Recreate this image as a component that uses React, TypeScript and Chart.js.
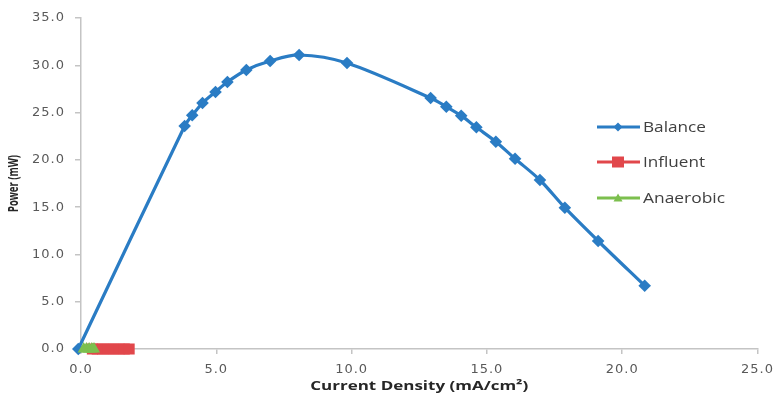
import { useEffect, useRef } from 'react';
import { Chart, registerables } from 'chart.js';

Chart.register(...registerables);

// Power curve measurements (current density in mA/cm², power in mW)
const balanceX = [-0.1, 3.83, 4.11, 4.49, 4.97, 5.41, 6.11, 6.99, 8.06, 9.83, 12.92, 13.5, 14.05, 14.61, 15.33, 16.04, 16.96, 17.88, 19.11, 20.83];
const balanceY = [0, 23.58, 24.71, 26.01, 27.18, 28.23, 29.5, 30.45, 31.09, 30.24, 26.54, 25.62, 24.67, 23.44, 21.92, 20.12, 17.87, 14.94, 11.42, 6.69];

const influentX = [0.42, 0.6, 0.8, 1.0, 1.2, 1.4, 1.6, 1.78];
const influentY = [0, 0, 0, 0, 0, 0, 0, 0];

const anaerobicX = [0.1, 0.2, 0.3, 0.4, 0.48];
const anaerobicY = [0, 0, 0, 0, 0];

const seriesNames = ['Balance', 'Influent', 'Anaerobic'];
const seriesColors = ['#2a7cc4', '#e1474b', '#7cbf4e'];

const xTicks = { min: 0, max: 25, step: 5 };
const yTicks = { min: 0, max: 35, step: 5 };

const xTitle = 'Current Density (mA/cm²)';
const yTitle = 'Power (mW)';

const zip = (xs: number[], ys: number[]) => xs.map((x, i) => ({ x, y: ys[i] }));

// Draw text scaled along its baseline so it spans the given width
function drawFitted(
  ctx: CanvasRenderingContext2D,
  text: string,
  x: number,
  y: number,
  width: number,
  align: 'left' | 'center',
) {
  (ctx as any).letterSpacing = '0px';
  const w = ctx.measureText(text).width;
  const k = width / w;
  ctx.save();
  ctx.translate(x, y);
  ctx.scale(k, 1);
  ctx.textAlign = align;
  ctx.fillText(text, 0, 0);
  ctx.restore();
}

const decorPlugin = {
  id: 'decor',
  beforeDraw(chart: any) {
    (chart.ctx as any).letterSpacing = '1px';
  },
  afterDraw(chart: any) {
    const ctx: CanvasRenderingContext2D = chart.ctx;
    const area = chart.chartArea;
    ctx.save();
    ctx.textBaseline = 'middle';

    // x axis title
    ctx.fillStyle = '#262626';
    ctx.font = 'bold 13px "Open Sans"';
    drawFitted(ctx, xTitle, (area.left + area.right) / 2, 386, 218, 'center');

    // y axis title, centred on the plot height
    ctx.save();
    ctx.translate(14, (area.top + area.bottom) / 2);
    ctx.rotate(-Math.PI / 2);
    ctx.font = 'bold 14px "Open Sans"';
    drawFitted(ctx, yTitle, 0, 0, 57, 'center');
    ctx.restore();

    // legend: line with marker, then name
    const rows = [127, 162, 198];
    const nameWidths = [63, 62, 82];
    ctx.font = '14px "Open Sans"';
    seriesNames.forEach((name, i) => {
      const y = rows[i];
      const c = seriesColors[i];
      ctx.strokeStyle = c;
      ctx.lineWidth = 3;
      ctx.beginPath();
      ctx.moveTo(597, y);
      ctx.lineTo(640, y);
      ctx.stroke();
      ctx.fillStyle = c;
      ctx.beginPath();
      if (i === 0) {
        const r = 4.5;
        ctx.moveTo(618 - r, y);
        ctx.lineTo(618, y - r);
        ctx.lineTo(618 + r, y);
        ctx.lineTo(618, y + r);
        ctx.closePath();
      } else if (i === 1) {
        ctx.rect(612, y - 5.5, 12, 11);
      } else {
        ctx.moveTo(618, y - 4.5);
        ctx.lineTo(622.5, y + 3.5);
        ctx.lineTo(613.5, y + 3.5);
        ctx.closePath();
      }
      ctx.fill();
      ctx.fillStyle = '#404040';
      drawFitted(ctx, name, 643, y + 1, nameWidths[i], 'left');
    });
    ctx.restore();
  },
};

export default function App() {
  const canvasRef = useRef<HTMLCanvasElement | null>(null);

  useEffect(() => {
    document.body.style.margin = '0';
    const canvas = canvasRef.current;
    if (!canvas) return;

    const tickFont = { family: '"DejaVu Sans"', size: 13 };

    const chart = new Chart(canvas, {
      type: 'line',
      data: {
        datasets: [
          {
            label: seriesNames[0],
            data: zip(balanceX, balanceY),
            borderColor: seriesColors[0],
            backgroundColor: seriesColors[0],
            borderWidth: 3.2,
            pointStyle: 'rectRot',
            pointRadius: 6.3,
            pointBorderWidth: 0,
            tension: 0.3,
            clip: false as any,
            order: 2,
          },
          {
            label: seriesNames[1],
            data: zip(influentX, influentY),
            borderColor: seriesColors[1],
            backgroundColor: seriesColors[1],
            borderWidth: 3,
            pointStyle: 'rect',
            pointRadius: 7.8,
            pointBorderWidth: 0,
            tension: 0,
            clip: false as any,
            order: 1,
          },
          {
            label: seriesNames[2],
            data: zip(anaerobicX, anaerobicY),
            borderColor: seriesColors[2],
            backgroundColor: seriesColors[2],
            borderWidth: 3,
            pointStyle: 'triangle',
            pointRadius: 7,
            pointBorderWidth: 0,
            tension: 0,
            clip: false as any,
            order: 0,
          },
        ],
      },
      options: {
        animation: false,
        responsive: false,
        layout: { padding: { top: 18, right: 20, left: 0, bottom: 0 } },
        plugins: {
          legend: { display: false },
          tooltip: { enabled: false },
          title: { display: false },
        },
        scales: {
          x: {
            type: 'linear',
            min: xTicks.min,
            max: xTicks.max,
            afterFit: (s: any) => {
              s.height = 50;
            },
            ticks: {
              stepSize: xTicks.step,
              color: '#595959',
              font: tickFont,
              padding: 8,
              maxRotation: 0,
              callback: (v: any) => Number(v).toFixed(1),
            },
            grid: { drawOnChartArea: false, drawTicks: true, tickLength: 5, color: '#c4c4c4', lineWidth: 1.5 },
            border: { color: '#c4c4c4', width: 1.5 },
          },
          y: {
            type: 'linear',
            min: yTicks.min,
            max: yTicks.max,
            afterFit: (s: any) => {
              s.width = 81;
            },
            ticks: {
              stepSize: yTicks.step,
              color: '#595959',
              font: tickFont,
              padding: 10,
              callback: (v: any) => Number(v).toFixed(1),
            },
            grid: { drawOnChartArea: false, drawTicks: true, tickLength: 6, color: '#c4c4c4', lineWidth: 1.5 },
            border: { color: '#c4c4c4', width: 1.5 },
          },
        },
      },
      plugins: [decorPlugin],
    });

    return () => chart.destroy();
  }, []);

  return (
    <div style={{ position: 'fixed', left: 0, top: 0, width: 780, height: 399, background: '#ffffff' }}>
      <canvas ref={canvasRef} width={780} height={399} style={{ display: 'block', width: 780, height: 399 }} />
    </div>
  );
}
